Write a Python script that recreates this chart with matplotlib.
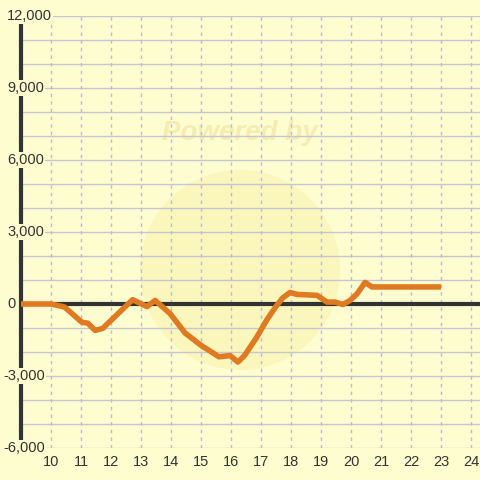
import matplotlib
matplotlib.use('Agg')
from matplotlib import pyplot as plt
from matplotlib.patches import Circle
from matplotlib.transforms import blended_transform_factory
import numpy as np

BG = '#FDFDD0'
LINE = '#E07A22'
DARK = '#333333'

# hour of day vs running total
hours = [9.0, 10.0, 10.45, 11.03, 11.23, 11.47, 11.72, 12.72, 13.2, 13.47,
         13.97, 14.47, 15.03, 15.25, 15.6, 15.97, 16.23, 16.45, 16.85, 17.2,
         17.5, 17.72, 17.97, 18.2, 18.87, 19.2, 19.47, 19.73, 19.97, 20.2,
         20.47, 20.7, 23.0]
values = [0, 0, -125, -760, -800, -1100, -1020, 180, -110, 150,
          -400, -1210, -1750, -1920, -2200, -2150, -2420, -2150, -1400, -650,
          -100, 250, 480, 400, 360, 80, 80, -20, 150, 420,
          900, 710, 710]

x_ticks = list(range(10, 25))
y_ticks = [12000, 9000, 6000, 3000, 0, -3000, -6000]
y_labels = ['12,000', '9,000', '6,000', '3,000', '0', '-3,000', '-6,000']

plt.rcParams['font.family'] = ['Liberation Sans', 'DejaVu Sans']

fig = plt.figure(figsize=(4.8, 4.8), dpi=100, facecolor=BG)
ax = fig.add_axes([21 / 480, 32 / 480, 459 / 480, 432 / 480])
ax.set_facecolor(BG)
ax.set_xlim(9, 24.3)
ax.set_ylim(-6000, 12000)

# faint watermark behind everything
ax.add_patch(Circle((240 / 480, 1 - 270 / 480), 100 / 480,
                    transform=fig.transFigure, facecolor='#FBF0A8',
                    edgecolor='none', alpha=0.5, zorder=0.5))
ax.text(240 / 480, 1 - 133 / 480, 'Powered by', ha='center', va='center',
        fontsize=20, fontweight='bold', style='italic', color='#F5ECB4',
        transform=fig.transFigure, zorder=0.5)

for s in ['top', 'right', 'bottom']:
    ax.spines[s].set_visible(False)
ax.spines['left'].set_color(DARK)
ax.spines['left'].set_linewidth(3)

# grid
for yv in range(-6000, 12001, 1000):
    ax.axhline(yv, color='#C6C6D0', lw=1, zorder=1)
for xv in x_ticks:
    ax.axvline(xv, color='#BDBDC8', lw=1, ls=(0, (2.5, 3)), zorder=1)
ax.axhline(0, color=DARK, lw=3, zorder=2)

ax.plot(hours, values, color=LINE, lw=4, solid_joinstyle='round',
        solid_capstyle='butt', zorder=3)

ax.set_xticks([])
ax.set_yticks([])
for xv in x_ticks:
    ax.text(xv, -6300, str(xv), ha='center', va='top', fontsize=10.5,
            color=DARK, clip_on=False)

trans = blended_transform_factory(ax.transAxes, ax.transData)
for yv, lab in zip(y_ticks, y_labels):
    xoff = 3 if lab.startswith('-') else 7
    ax.text((xoff - 21) / 459, yv, lab, ha='left', va='center', fontsize=10.5,
            color=DARK, transform=trans, clip_on=False, zorder=5,
            bbox=dict(facecolor=BG, edgecolor='none', pad=1))

fig.savefig('out.png', dpi=100, facecolor=BG)
